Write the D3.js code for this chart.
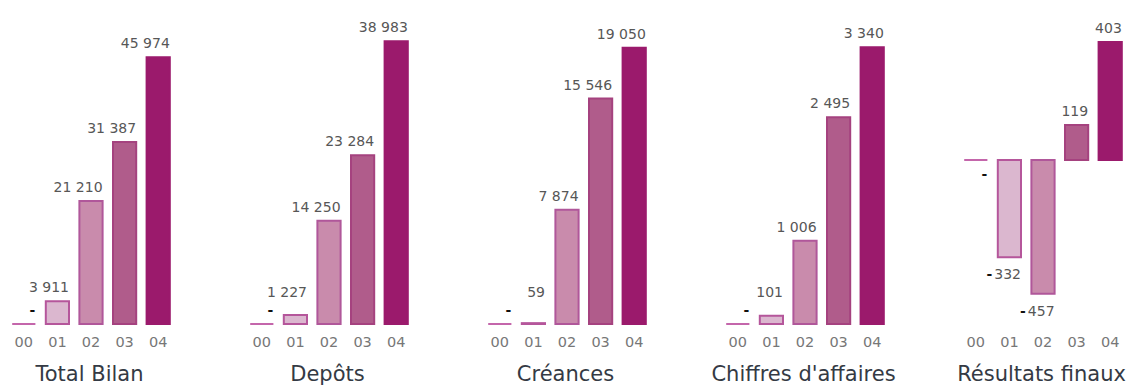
<!DOCTYPE html>
<html>
<head>
<meta charset="utf-8">
<script src="https://cdn.jsdelivr.net/npm/d3@7"></script>
<style>
  body { margin: 0; background: #fff; }
  svg { display: block; }
</style>
</head>
<body>
<svg id="chart" width="1128" height="385"></svg>
<script>
// Years shown under every small multiple
const years = ["00", "01", "02", "03", "04"];

// Panel titles
const titles = ["Total Bilan", "Depôts", "Créances", "Chiffres d'affaires", "Résultats finaux"];

// Series values, one array per panel
const totalBilan       = [0, 3911, 21210, 31387, 45974];
const depots           = [0, 1227, 14250, 23284, 38983];
const creances         = [0, 59, 7874, 15546, 19050];
const chiffresAffaires = [0, 101, 1006, 2495, 3340];
const resultatsFinaux  = [0, -332, -457, 119, 403];

// Value axis extent of each panel
const yDomains = [[0, 50000], [0, 40000], [0, 20000], [0, 3500], [-560, 430]];

const seriesList = [totalBilan, depots, creances, chiffresAffaires, resultatsFinaux];

// One shade per year, light to dark
const barFills   = ["#c466ab", "#dbb7cf", "#c98bac", "#b05c8b", "#9b1a6c"];
const barStrokes = ["#c466ab", "#b5569b", "#b0579a", "#a5427f", "#9b1a6c"];

// Layout
const panelLeft = 7, panelStep = 238, panelWidth = 168;
const plotTop = 34, plotBottom = 324;
const axisY = 334, titleY = 381;
const labelGap = 14, belowGap = 17, stackGap = 18;

const svg = d3.select("#chart");
const fmt = d3.formatLocale({ decimal: ",", thousands: " ", grouping: [3], currency: ["", ""] }).format(",d");

seriesList.forEach((values, p) => {
  const x0 = panelLeft + p * panelStep;
  const g = svg.append("g").attr("class", "panel");

  const x = d3.scaleBand()
    .domain(years)
    .range([x0, x0 + panelWidth])
    .paddingInner(0.25)
    .paddingOuter(0.125);

  const y = d3.scaleLinear()
    .domain(yDomains[p])
    .range([plotBottom, plotTop]);

  const rows = years.map((yr, i) => ({ yr, v: values[i], i }));
  const hasNegative = values.some(v => v < 0);

  // Bars (drawn as paths so a zero value still shows as a line on the base)
  g.selectAll("path.bar")
    .data(rows)
    .join("path")
    .attr("class", "bar")
    .attr("d", d => {
      const left = x(d.yr) + 1, w = x.bandwidth() - 2;
      const y0 = y(0), y1 = y(d.v);
      return `M${left},${y0}H${left + w}V${y1}H${left}Z`;
    })
    .attr("fill", d => barFills[d.i])
    .attr("stroke", d => barStrokes[d.i])
    .attr("stroke-width", 2)
    .attr("stroke-linejoin", "miter");

  // Value labels, right-aligned on each bar, nudged apart when crowded
  let lastAbove = Infinity, lastBelow = -Infinity;
  rows.forEach(d => {
    const below = d.v < 0 || (d.v === 0 && hasNegative);
    let cy;
    if (below) {
      const gap = d.v === 0 ? labelGap : belowGap;
      cy = Math.max(y(d.v) + gap, lastBelow + stackGap);
      lastBelow = cy;
    } else {
      cy = Math.min(y(d.v) - labelGap, lastAbove - stackGap);
      lastAbove = cy;
    }
    const t = g.append("text")
      .attr("x", x(d.yr) + x.bandwidth() - 1)
      .attr("y", cy)
      .attr("dy", "0.36em")
      .attr("text-anchor", "end")
      .attr("font-family", "'DejaVu Sans', Verdana, sans-serif")
      .attr("font-size", 14)
      .attr("fill", "#575757");
    if (d.v === 0) {
      t.append("tspan").attr("fill", "#111").attr("font-weight", "bold").text("-");
    } else if (d.v < 0) {
      t.append("tspan").attr("fill", "#111").attr("font-weight", "bold").text("-");
      t.append("tspan").attr("dx", 2).text(fmt(Math.abs(d.v)));
    } else {
      t.text(fmt(d.v));
    }
  });

  // Year axis
  const axis = g.append("g")
    .attr("transform", `translate(0,${axisY})`)
    .call(d3.axisBottom(x).tickSize(0).tickPadding(3));
  axis.select(".domain").remove();
  axis.selectAll("text")
    .attr("font-family", "'DejaVu Sans', Verdana, sans-serif")
    .attr("font-size", 14.5)
    .attr("fill", "#777");

  // Panel title
  g.append("text")
    .attr("x", x0 + panelWidth / 2 - 1.5)
    .attr("y", titleY)
    .attr("text-anchor", "middle")
    .attr("font-family", "'DejaVu Sans', Verdana, sans-serif")
    .attr("font-size", 21)
    .attr("fill", "#343a44")
    .text(titles[p]);
});
</script>
</body>
</html>
